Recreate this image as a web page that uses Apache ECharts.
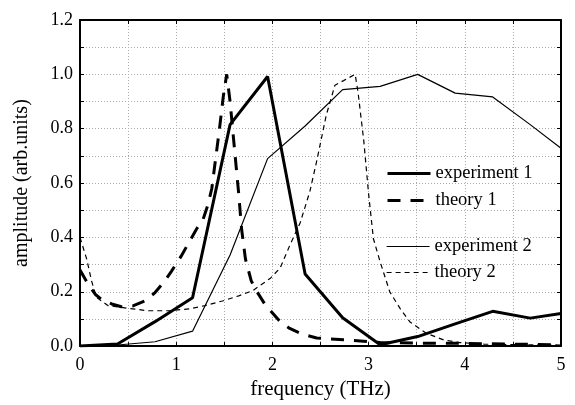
<!DOCTYPE html>
<html>
<head>
<meta charset="utf-8">
<script src="https://cdn.jsdelivr.net/npm/echarts@6/dist/echarts.min.js"></script>
<style>html,body{margin:0;padding:0;background:#fff;}#c{width:575px;height:405px;}</style>
</head>
<body>
<div id="c"></div>
<script>
// Data
const expX = [0, 0.39, 0.78, 1.17, 1.56, 1.95, 2.34, 2.73, 3.12, 3.51, 3.90, 4.29, 4.68, 5.0];
const exp1Y = [0.0, 0.008, 0.09, 0.178, 0.815, 0.992, 0.265, 0.104, 0.005, 0.035, 0.082, 0.128, 0.103, 0.12];
const exp2Y = [0.0, 0.004, 0.016, 0.055, 0.335, 0.69, 0.81, 0.944, 0.956, 1.0, 0.931, 0.917, 0.815, 0.728];
const th1X = [0, 0.08, 0.16, 0.23, 0.33, 0.43, 0.55, 0.68, 0.78, 0.87, 0.95, 1.05, 1.13, 1.21, 1.28, 1.33, 1.37, 1.41, 1.45, 1.49, 1.525, 1.56, 1.61, 1.65, 1.68, 1.72, 1.78, 1.84, 1.92, 1.98, 2.08, 2.18, 2.3, 2.46, 2.74, 3.12, 3.5, 4.0, 4.5, 5.0];
const th1Y = [0.28, 0.23, 0.19, 0.17, 0.155, 0.145, 0.148, 0.167, 0.197, 0.235, 0.275, 0.33, 0.38, 0.43, 0.467, 0.52, 0.58, 0.69, 0.8, 0.92, 1.0, 0.9, 0.71, 0.56, 0.43, 0.32, 0.24, 0.2, 0.155, 0.13, 0.09, 0.065, 0.045, 0.03, 0.023, 0.013, 0.011, 0.01, 0.007, 0.005];
const th2X = [0, 0.07, 0.12, 0.17, 0.29, 0.5, 0.71, 0.92, 1.14, 1.3, 1.49, 1.65, 1.8, 1.98, 2.08, 2.18, 2.29, 2.39, 2.46, 2.56, 2.65, 2.74, 2.86, 2.89, 2.95, 3.0, 3.05, 3.12, 3.22, 3.33, 3.43, 3.6, 3.78, 3.95, 4.2, 4.6, 5.0];
const th2Y = [0.40, 0.32, 0.24, 0.18, 0.149, 0.139, 0.13, 0.13, 0.137, 0.149, 0.167, 0.185, 0.205, 0.25, 0.287, 0.37, 0.455, 0.57, 0.68, 0.85, 0.96, 0.977, 1.0, 0.935, 0.755, 0.56, 0.395, 0.31, 0.2, 0.137, 0.089, 0.047, 0.023, 0.013, 0.007, 0.005, 0.004];
const seriesNames = ['experiment 1', 'theory 1', 'experiment 2', 'theory 2'];

const zip = (xs, ys) => xs.map((x, i) => [x, ys[i]]);
const FONT = 'Liberation Serif';
const gridLine = {show: true, lineStyle: {color: '#aaa', type: [1, 2], width: 1}};
const axLine = {show: true, onZero: false, lineStyle: {color: '#000', width: 2}};
const tick = {show: true, inside: true, length: 4, lineStyle: {color: '#000', width: 1}};
const legendBase = {orient: 'vertical', left: 386, itemWidth: 43, itemHeight: 16, padding: 0,
  itemStyle: {opacity: 0},
  textStyle: {fontFamily: FONT, fontSize: 18.5, color: '#000'}};

const chart = echarts.init(document.getElementById('c'), null, {renderer: 'canvas'});
chart.setOption({
  animation: false,
  backgroundColor: '#fff',
  grid: {left: 80, right: 14, top: 20, bottom: 52, containLabel: false},
  legend: [
    Object.assign({}, legendBase, {data: [seriesNames[0], seriesNames[1]], top: 164, itemGap: 8,
      lineStyle: {width: 3}}),
    Object.assign({}, legendBase, {data: [seriesNames[2], seriesNames[3]], top: 237, itemGap: 7,
      lineStyle: {width: 1.2}})
  ],
  xAxis: [
    {type: 'value', min: 0, max: 5, interval: 0.5, position: 'bottom',
     name: 'frequency (THz)', nameLocation: 'middle', nameGap: 31,
     nameTextStyle: {fontFamily: FONT, fontSize: 21, color: '#000'},
     axisLabel: {fontFamily: FONT, fontSize: 18, color: '#000', margin: 10,
       formatter: v => Math.abs(v - Math.round(v)) < 1e-6 ? String(Math.round(v)) : ''},
     axisLine: axLine, axisTick: tick, splitLine: gridLine},
    {type: 'value', min: 0, max: 5, interval: 0.5, position: 'top',
     axisLabel: {show: false}, axisLine: axLine, axisTick: tick, splitLine: {show: false}}
  ],
  yAxis: [
    {type: 'value', min: 0, max: 1.2, interval: 0.1, position: 'left',
     name: 'amplitude (arb.units)', nameLocation: 'middle', nameGap: 48,
     nameTextStyle: {fontFamily: FONT, fontSize: 20, color: '#000'},
     axisLabel: {fontFamily: FONT, fontSize: 18, color: '#000', margin: 7,
       formatter: v => Math.round(v * 10) % 2 === 0 ? v.toFixed(1) : ''},
     axisLine: axLine, axisTick: tick, splitLine: gridLine},
    {type: 'value', min: 0, max: 1.2, interval: 0.1, position: 'right',
     axisLabel: {show: false}, axisLine: axLine, axisTick: tick, splitLine: {show: false}}
  ],
  series: [
    {name: seriesNames[0], type: 'line', data: zip(expX, exp1Y), symbol: 'none',
     lineStyle: {color: '#000', width: 3, type: 'solid'}, itemStyle: {color: '#000'}},
    {name: seriesNames[1], type: 'line', data: zip(th1X, th1Y), symbol: 'none',
     lineStyle: {color: '#000', width: 3, type: [13, 10]}, itemStyle: {color: '#000'}},
    {name: seriesNames[2], type: 'line', data: zip(expX, exp2Y), symbol: 'none',
     lineStyle: {color: '#000', width: 1.2, type: 'solid'}, itemStyle: {color: '#000'}},
    {name: seriesNames[3], type: 'line', data: zip(th2X, th2Y), symbol: 'none',
     lineStyle: {color: '#000', width: 1.2, type: [5, 4]}, itemStyle: {color: '#000'}}
  ]
});
</script>
</body>
</html>
